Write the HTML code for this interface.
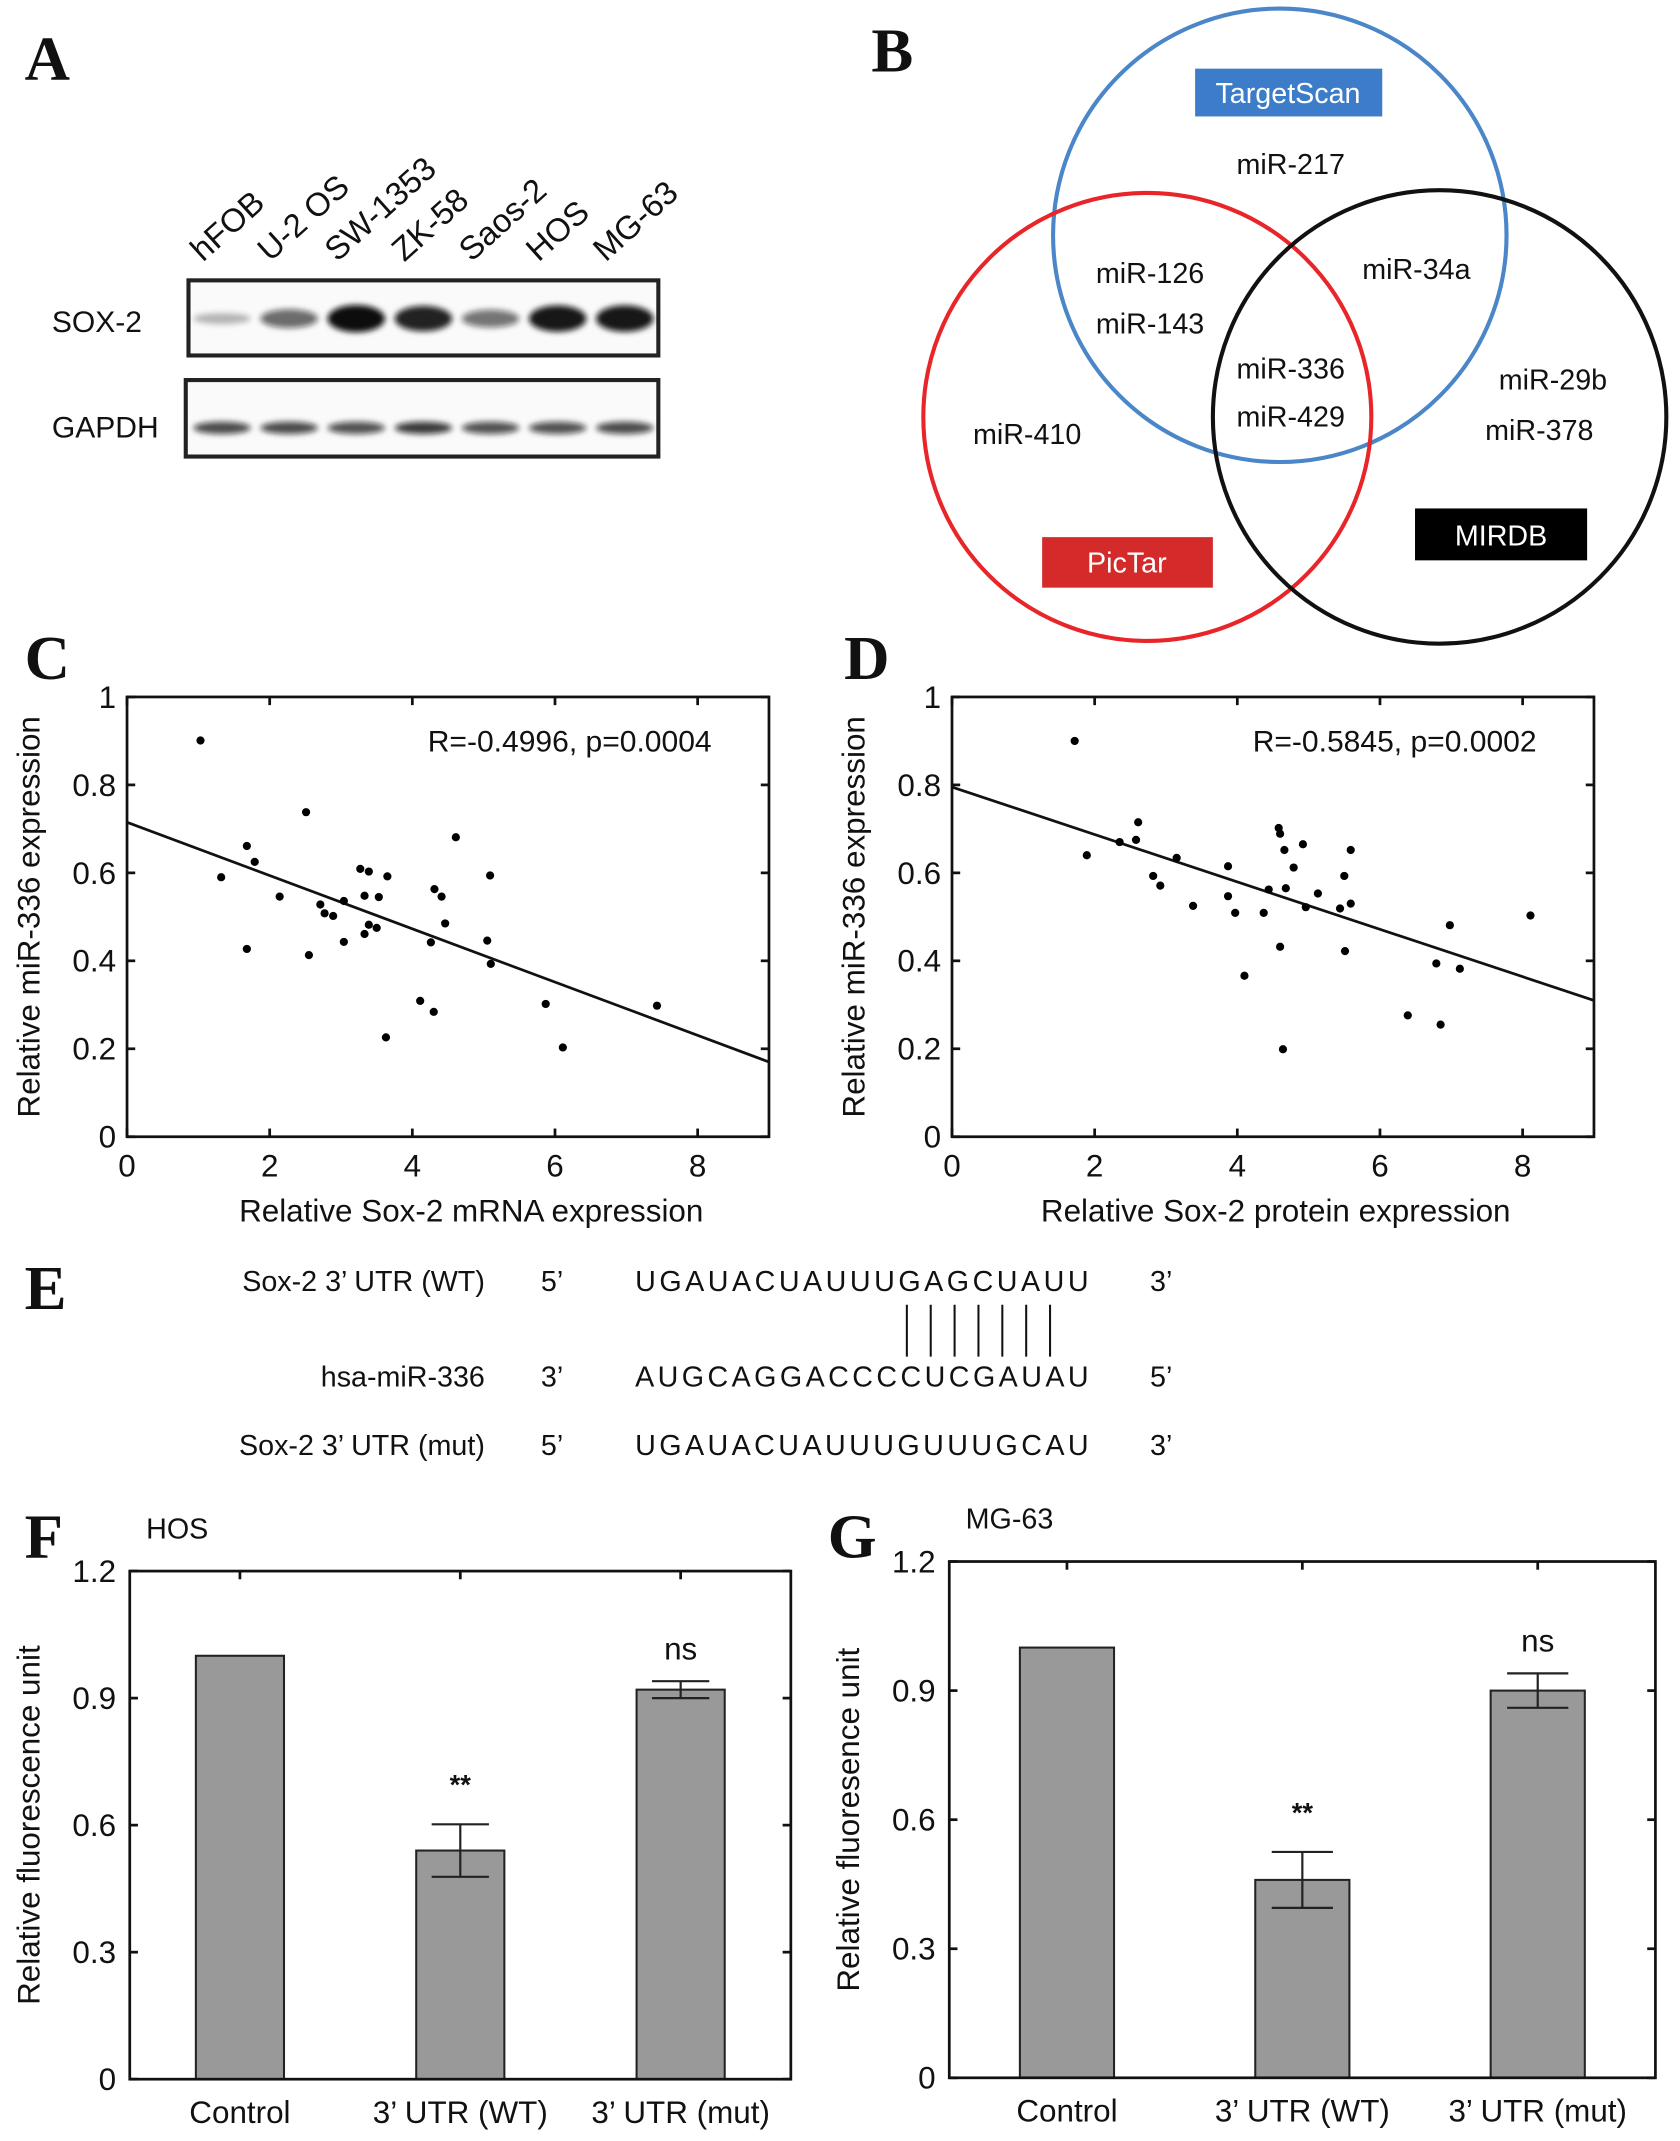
<!DOCTYPE html>
<html><head><meta charset="utf-8"><style>
html,body{margin:0;padding:0;background:#fff}
svg{display:block}
text{font-family:"Liberation Sans",Arial,sans-serif;fill:#111}
.lbl{font-family:"Liberation Serif",serif;font-weight:bold;font-size:46px}
.tk{font-size:23px}
.ax{font-size:23px}
</style></head><body>
<svg id="fig" width="1680" height="2141" viewBox="0 0 1230 1567" xmlns="http://www.w3.org/2000/svg">
<defs>
<filter id="blur" x="-20%" y="-50%" width="140%" height="200%"><feGaussianBlur stdDeviation="2.2"/></filter>
</defs>
<text class="lbl" x="18" y="58">A</text>
<g id="blot"></g>
<text class="lbl" x="638" y="52">B</text>
<g>
<circle cx="937" cy="172" r="166" fill="none" stroke="#4a86c8" stroke-width="3"/>
<circle cx="840" cy="305" r="164" fill="none" stroke="#e8262a" stroke-width="3"/>
<circle cx="1054" cy="305" r="166" fill="none" stroke="#111" stroke-width="3"/>
<rect x="875" y="50" width="137" height="35" fill="#3c7cc8"/>
<text x="943" y="75" text-anchor="middle" font-size="21" style="fill:#fff">TargetScan</text>
<rect x="763" y="393" width="125" height="37" fill="#d42a2a"/>
<text x="825" y="419" text-anchor="middle" font-size="21" style="fill:#fff">PicTar</text>
<rect x="1036" y="372" width="126" height="38" fill="#000"/>
<text x="1099" y="399" text-anchor="middle" font-size="21" style="fill:#fff">MIRDB</text>
<g font-size="21" text-anchor="middle">
<text x="945" y="127">miR-217</text>
<text x="842" y="207">miR-126</text>
<text x="842" y="244">miR-143</text>
<text x="1037" y="204">miR-34a</text>
<text x="945" y="277">miR-336</text>
<text x="945" y="312">miR-429</text>
<text x="1137" y="285">miR-29b</text>
<text x="1127" y="322">miR-378</text>
<text x="752" y="325">miR-410</text>
</g>
</g>
<text class="lbl" x="18" y="497">C</text>
<text class="lbl" x="618" y="497">D</text>
<g id="scC"></g>
<g id="scD"></g>
<text class="lbl" x="18" y="958">E</text>
<g font-size="21">
<text x="355" y="945" text-anchor="end">Sox-2 3’ UTR (WT)</text>
<text x="396" y="945">5’</text>
<text x="465" y="945" textLength="332">UGAUACUAUUUGAGCUAUU</text>
<text x="842" y="945">3’</text>
<text x="355" y="1015" text-anchor="end">hsa-miR-336</text>
<text x="396" y="1015">3’</text>
<text x="465" y="1015" textLength="332">AUGCAGGACCCCUCGAUAU</text>
<text x="842" y="1015">5’</text>
<text x="355" y="1065" text-anchor="end">Sox-2 3’ UTR (mut)</text>
<text x="396" y="1065">5’</text>
<text x="465" y="1065" textLength="332">UGAUACUAUUUGUUUGCAU</text>
<text x="842" y="1065">3’</text>
<g id="pairs" stroke="#111" stroke-width="1.5"></g>
</g>
<text class="lbl" x="18" y="1140">F</text>
<text class="lbl" x="606" y="1140">G</text>
<g id="barF"></g>
<g id="barG"></g>
</svg>
<script>
const NS="http://www.w3.org/2000/svg";
function mk(tag,attrs,parent,txt){const e=document.createElementNS(NS,tag);for(const k in attrs)e.setAttribute(k,attrs[k]);if(txt!==undefined)e.textContent=txt;parent.appendChild(e);return e;}

const lanes=["hFOB","U-2 OS","SW-1353","ZK-58","Saos-2","HOS","MG-63"];
const soxIntensity=[0.15,0.55,1.0,0.9,0.5,0.95,0.95];
const gapdhIntensity=[0.75,0.75,0.72,0.82,0.72,0.72,0.75];

(function(){
  const g=document.getElementById('blot');
  const x0=138,x1=482;const lw=(x1-x0)/lanes.length;
  lanes.forEach((n,i)=>{
    const cx=x0+lw*(i+0.5);
    const t=mk('text',{x:cx-14,y:192,'font-size':24,transform:`rotate(-42 ${cx-14} 192)`},g,n);
    
    
  });
  const b1=mk('rect',{x:138,y:205,width:344,height:55,fill:'#fafafa',stroke:'#222','stroke-width':3},g);
  
  
  const b2=mk('rect',{x:136,y:278,width:346,height:56,fill:'#fafafa',stroke:'#222','stroke-width':3},g);
  
  
  const l1=mk('text',{x:38,y:243,'font-size':22},g,'SOX-2');
  
  
  const l2=mk('text',{x:38,y:320,'font-size':22},g,'GAPDH');
  
  
  lanes.forEach((n,i)=>{
    const cx=x0+lw*(i+0.5);
    const s=soxIntensity[i];
    const e=mk('ellipse',{cx:cx,cy:233,rx:21,ry:3+7*s,fill:'#111','fill-opacity':0.15+0.85*s,filter:'url(#blur)'},g);
    
    
    const q=gapdhIntensity[i];
    const f=mk('ellipse',{cx:cx,cy:313,rx:21,ry:4.5,fill:'#111','fill-opacity':q,filter:'url(#blur)'},g);
    
    
  });
})();

const cX=[1.03,1.32,1.68,1.79,1.68,2.14,2.51,2.55,2.71,2.77,2.89,3.04,3.04,3.27,3.39,3.33,3.53,3.65,3.33,3.39,3.5,3.63,4.11,4.31,4.41,4.26,4.46,4.3,4.61,5.09,5.05,5.1,5.87,6.11,7.43];
const cY=[0.901,0.59,0.661,0.625,0.427,0.546,0.738,0.413,0.528,0.508,0.502,0.536,0.443,0.609,0.603,0.548,0.545,0.592,0.461,0.482,0.475,0.226,0.309,0.563,0.546,0.442,0.485,0.284,0.681,0.594,0.446,0.393,0.302,0.203,0.298];
const cFit=[0.715,0.170];
const dX=[1.72,1.89,2.35,2.61,2.58,2.82,2.92,3.15,3.38,3.87,3.87,3.97,4.1,4.37,4.44,4.58,4.6,4.68,4.66,4.6,4.64,4.79,4.92,4.96,5.13,5.44,5.5,5.51,5.59,5.59,6.39,6.79,6.85,6.98,7.12,8.11];
const dY=[0.90,0.64,0.67,0.715,0.675,0.593,0.571,0.634,0.525,0.615,0.547,0.509,0.366,0.509,0.562,0.702,0.689,0.565,0.652,0.432,0.199,0.612,0.665,0.522,0.553,0.519,0.593,0.422,0.652,0.53,0.276,0.394,0.255,0.481,0.382,0.503];
const dFit=[0.795,0.31];
const scXTicks=[0,2,4,6,8];
const scYTicks=[0,0.2,0.4,0.6,0.8,1];
const scYTickLabels=["0","0.2","0.4","0.6","0.8","1"];

function scatter(id,left,xs,ys,fit,stat,xlabel,xoff){
  const g=document.getElementById(id);
  const L=left,R=left+470,T=510,B=832;
  const sx=v=>L+(v/9)*(R-L), sy=v=>B-v*(B-T);
  const box=mk('rect',{x:L,y:T,width:R-L,height:B-T,fill:'none',stroke:'#111','stroke-width':2},g);
  
  
  scXTicks.forEach(v=>{
    const x=sx(v);
    mk('line',{x1:x,y1:B,x2:x,y2:B-6,stroke:'#111','stroke-width':2},g);
    mk('line',{x1:x,y1:T,x2:x,y2:T+6,stroke:'#111','stroke-width':2},g);
    const t=mk('text',{x:x,y:B+29,'text-anchor':'middle',class:'tk'},g,String(v));
    
    
  });
  scYTicks.forEach((v,i)=>{
    const y=sy(v);
    mk('line',{x1:L,y1:y,x2:L+6,y2:y,stroke:'#111','stroke-width':2},g);
    mk('line',{x1:R,y1:y,x2:R-6,y2:y,stroke:'#111','stroke-width':2},g);
    const t=mk('text',{x:L-8,y:y+8,'text-anchor':'end',class:'tk'},g,scYTickLabels[i]);
    
    
  });
  const ln=mk('line',{x1:sx(0),y1:sy(fit[0]),x2:sx(9),y2:sy(fit[1]),stroke:'#111','stroke-width':2},g);
  
  
  xs.forEach((v,i)=>{
    const c=mk('circle',{cx:sx(v),cy:sy(ys[i]),r:3,fill:'#000'},g);
    
    
  });
  const st=mk('text',{x:R-42,y:T+40,'text-anchor':'end','font-size':22},g,stat);
  
  
  const xt=mk('text',{x:(L+R)/2+xoff,y:B+62,'text-anchor':'middle',class:'ax'},g,xlabel);
  
  
  const yx=L-64,yy=(T+B)/2;
  const yt=mk('text',{x:yx,y:yy,'text-anchor':'middle',class:'ax',transform:`rotate(-90 ${yx} ${yy})`},g,'Relative miR-336 expression');
  
  
}
scatter('scC',93,cX,cY,cFit,'R=-0.4996, p=0.0004','Relative Sox-2 mRNA expression',17);
scatter('scD',697,dX,dY,dFit,'R=-0.5845, p=0.0002','Relative Sox-2 protein expression',2);

const pairIdx=[11,12,13,14,15,16,17];
(function(){const g=document.getElementById('pairs');const cw=332/19;
pairIdx.forEach(i=>{const x=465+cw*(i+0.5)-2;const l=mk('line',{x1:x,y1:955,x2:x,y2:993},g);

});})();

const barCats=["Control","3’ UTR (WT)","3’ UTR (mut)"];
const hosVals=[1.0,0.54,0.92];
const hosErr=[0,0.062,0.02];
const hosSig=["","**","ns"];
const mgVals=[1.0,0.46,0.90];
const mgErr=[0,0.065,0.04];
const mgSig=["","**","ns"];
const barYTicks=[0,0.3,0.6,0.9,1.2];
const barYTickLabels=["0","0.3","0.6","0.9","1.2"];

function bars(id,L,R,T,B,vals,errs,sig,title,ylab){
  const g=document.getElementById(id);
  const sx=v=>L+(v-0.5)/3*(R-L), sy=v=>B-v/1.2*(B-T);
  const unit=(R-L)/3;
  vals.forEach((v,i)=>{
    const cx=sx(i+1),w=unit*0.4;
    const r=mk('rect',{x:cx-w/2,y:sy(v),width:w,height:B-sy(v),fill:'#999',stroke:'#222','stroke-width':1.5},g);
    
    
    if(errs[i]>0){
      const e=errs[i],cw=unit*0.13;
      const eg=mk('g',{stroke:'#222','stroke-width':1.6},g);
      
      
      mk('line',{x1:cx,y1:sy(v-e),x2:cx,y2:sy(v+e)},eg);
      mk('line',{x1:cx-cw,y1:sy(v-e),x2:cx+cw,y2:sy(v-e)},eg);
      mk('line',{x1:cx-cw,y1:sy(v+e),x2:cx+cw,y2:sy(v+e)},eg);
    }
    if(sig[i]){
      const yy=sy(v+errs[i])-(sig[i]==='**'?22:16);
      const s=mk('text',{x:cx,y:yy,'text-anchor':'middle','font-size':sig[i]==='**'?20:23,'font-weight':sig[i]==='**'?'bold':'normal'},g,sig[i]);
      
      
    }
    const t=mk('text',{x:cx,y:B+32,'text-anchor':'middle',class:'ax'},g,barCats[i]);
    
    
    mk('line',{x1:cx,y1:T,x2:cx,y2:T+6,stroke:'#111','stroke-width':2},g);
  });
  const box=mk('rect',{x:L,y:T,width:R-L,height:B-T,fill:'none',stroke:'#111','stroke-width':2},g);
  
  
  barYTicks.forEach((v,i)=>{
    const y=sy(v);
    mk('line',{x1:L,y1:y,x2:L+6,y2:y,stroke:'#111','stroke-width':2},g);
    mk('line',{x1:R,y1:y,x2:R-6,y2:y,stroke:'#111','stroke-width':2},g);
    const t=mk('text',{x:L-10,y:y+8,'text-anchor':'end',class:'tk'},g,barYTickLabels[i]);
    
    
  });
  const tt=mk('text',{x:L+12,y:T-24,'font-size':21},g,title);
  
  
  const yx=L-66,yy=(T+B)/2;
  const yt=mk('text',{x:yx,y:yy,'text-anchor':'middle',class:'ax',transform:`rotate(-90 ${yx} ${yy})`},g,ylab);
  
  
}
bars('barF',95,579,1150,1522,hosVals,hosErr,hosSig,'HOS','Relative fluorescence unit');
bars('barG',695,1212,1143,1521,mgVals,mgErr,mgSig,'MG-63','Relative fluoresence unit');
</script>
</body></html>
